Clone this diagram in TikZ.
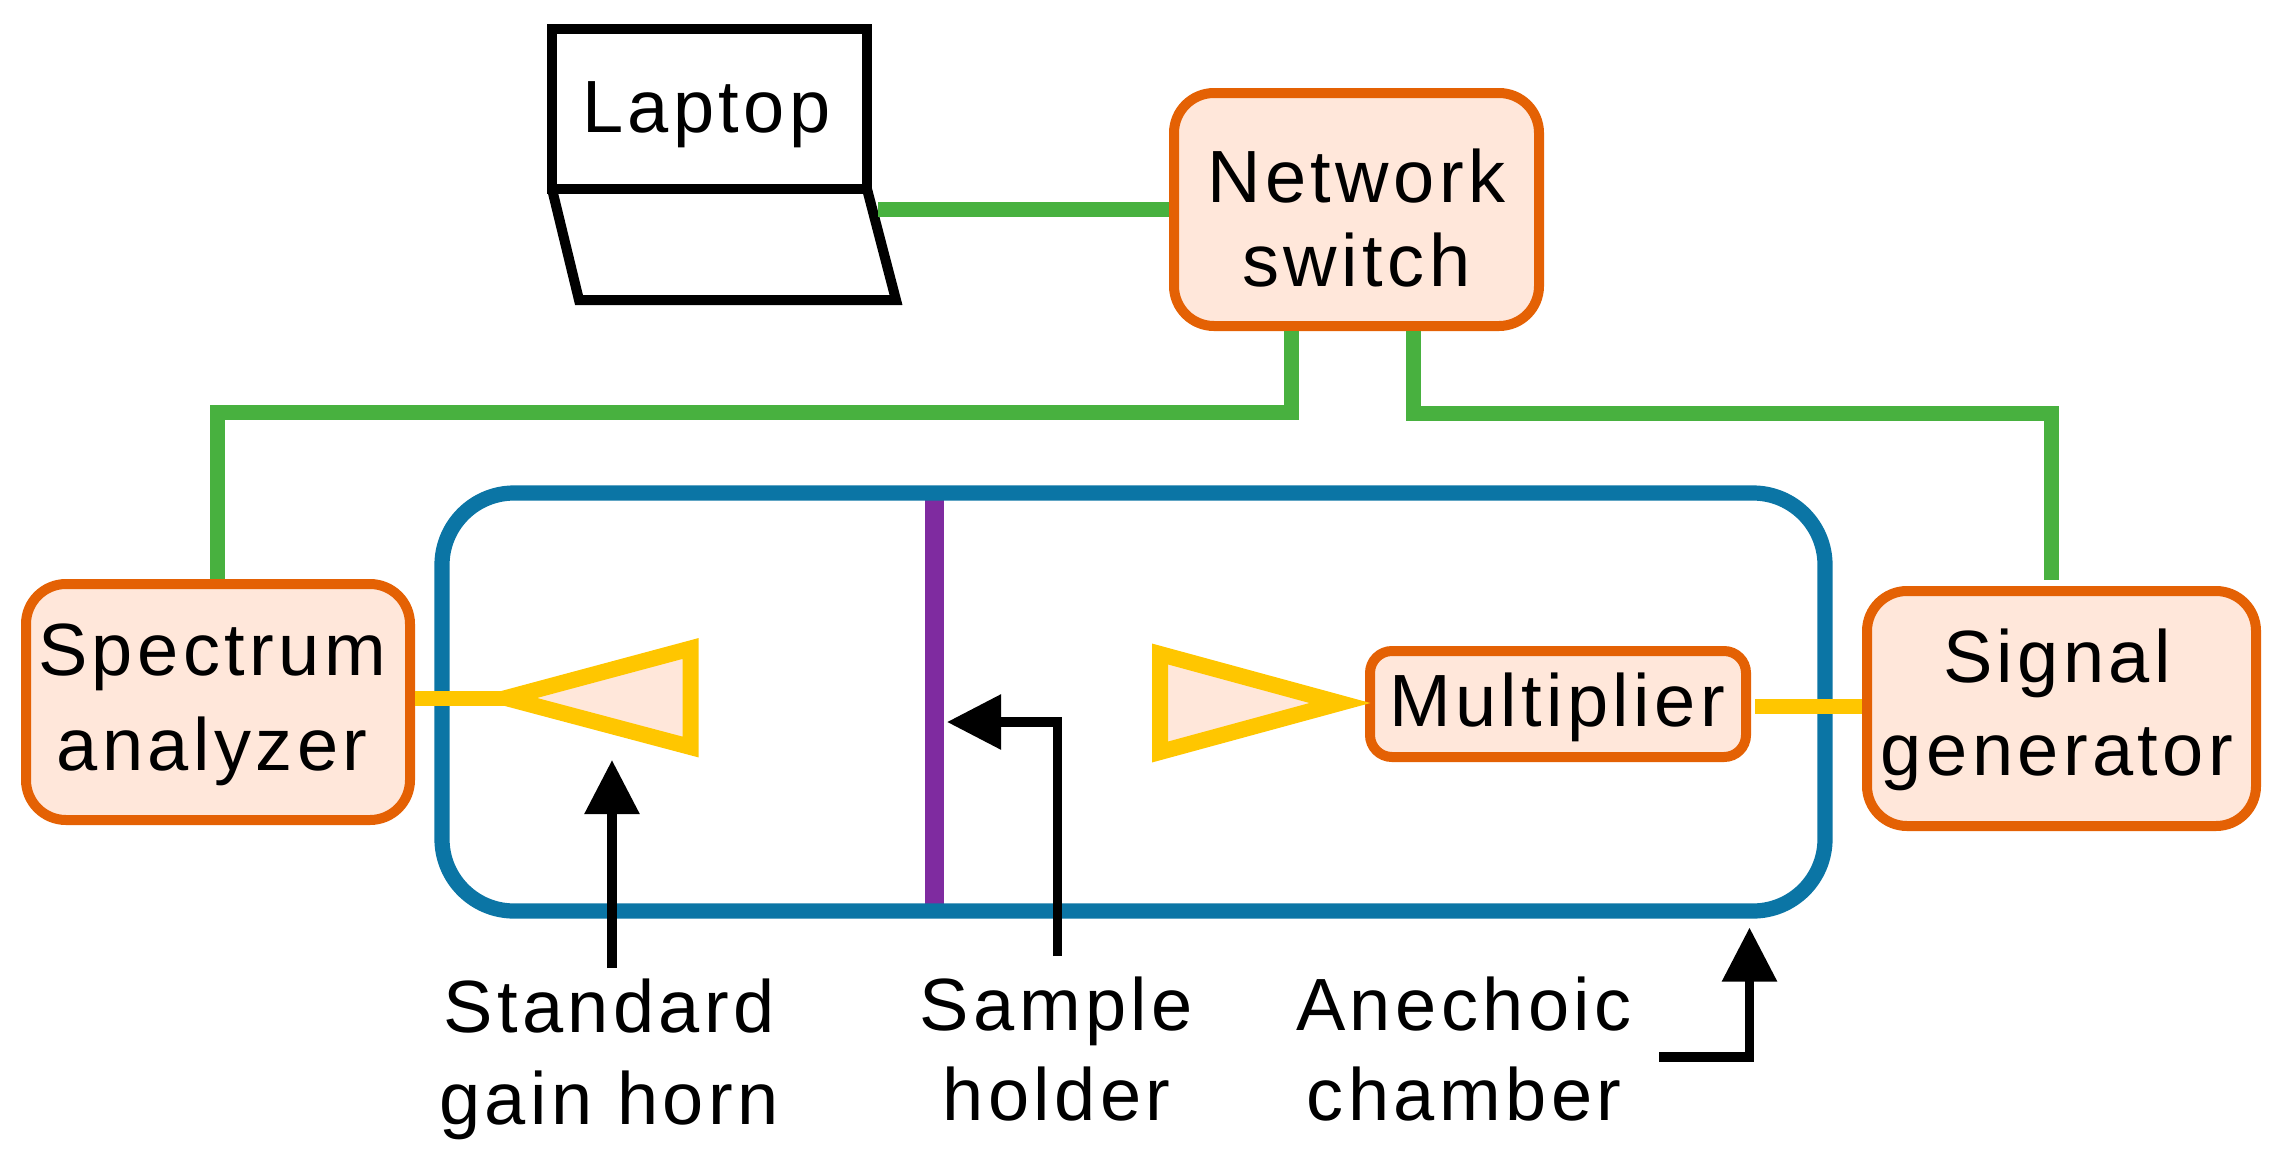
\documentclass[tikz,border=0pt]{standalone}
\usepackage{fontspec}
\setmainfont[LetterSpace=6]{Liberation Sans}
\usetikzlibrary{arrows.meta,calc}
\definecolor{boxline}{HTML}{E46104}
\definecolor{boxfill}{HTML}{FFE7DA}
\definecolor{wire}{HTML}{48B13F}
\definecolor{feed}{HTML}{FFC600}
\definecolor{chamberline}{HTML}{0B75A5}
\definecolor{holderline}{HTML}{7F2BA0}
% one line of text placed relative to the node centre: x shift, y shift, text
\newcommand{\tl}[3]{\makebox[0pt]{\hspace*{#1}\raisebox{#2}[0pt][0pt]{#3}}}
\tikzset{
  every node/.style={font=\fontsize{37}{44}\selectfont},
  devbox/.style={draw=boxline,fill=boxfill,line width=5pt,rounded corners=20pt,inner sep=0pt,text=black},
  lbl/.style={inner sep=0pt,text=black},
  wireline/.style={draw=wire,line width=7.5pt,line join=miter},
  feedline/.style={draw=feed,line width=7.5pt},
  hornshape/.style={draw=feed,fill=boxfill,line width=8pt,line join=miter},
  pointer/.style={draw=black,line width=4.6pt,line join=miter,-{Triangle[length=27pt,width=26.5pt]}},
}
\begin{document}
\begin{tikzpicture}[x=0.5pt,y=-0.5pt]
\useasboundingbox (0,0) rectangle (2284,1162);
% chamber and sample holder
\node[draw=none,inner sep=0pt] (holder) at (934.5,702) {};
\draw[holderline,line width=9.8pt] (934.5,493) -- (934.5,911);
\node[draw=chamberline,line width=7.6pt,rounded corners=36pt,minimum width=691.5pt,minimum height=209pt,inner sep=0pt,outer sep=0pt] (chamber) at (1133.5,702) {};
% devices
\node[draw=black,line width=5pt,minimum width=157.5pt,minimum height=80.25pt,inner sep=0pt,lbl] (laptop) at (709.5,108.75) {\tl{-3pt}{-11.9pt}{Laptop}};
\draw[black,line width=5pt,line join=miter] (laptop.south west) ++(2.5pt,2.5pt) -- (579,300) -- (896,300) -- (867,189);
\node[devbox,minimum width=182.5pt,minimum height=116.5pt] (switch) at (1356.5,209.5) {\tl{0pt}{3.75pt}{Network}\tl{0pt}{-38.25pt}{switch}};
\node[devbox,minimum width=192pt,minimum height=118pt] (spectrum) at (218,702) {\tl{-6pt}{13.25pt}{Spectrum}\tl{-6pt}{-34pt}{analyzer}};
\node[devbox,minimum width=194.5pt,minimum height=117.5pt] (signal) at (2061.5,708.5) {\tl{-4.5pt}{13.25pt}{Signal}\tl{-4.5pt}{-33.25pt}{generator}};
\node[devbox,rounded corners=11pt,minimum width=188pt,minimum height=53pt] (mult) at (1558,704) {\tl{-1pt}{-11pt}{Multiplier}};
% horns
\coordinate (hornL) at (506,698);
\coordinate (hornR) at (1340,703);
\draw[hornshape] (hornL) -- (690.5,648.5) -- (690.5,747) -- cycle;
\draw[hornshape] (hornR) -- (1160,654) -- (1160,752) -- cycle;
% feeds
\draw[feedline] (spectrum.east |- hornL) -- ($(hornL)+(8,0)$);
\coordinate (feedR) at (1800,706);
\draw[feedline,shorten <=2.2pt] (mult.east |- feedR) -- (signal.west |- feedR);
% network wiring
\coordinate (lapR) at (878,209);
\draw[wireline] (lapR) -- (switch.west |- lapR);
\coordinate (busA) at (217,412);
\coordinate (busB) at (1291,412);
\coordinate (busC) at (1413.5,413);
\coordinate (busD) at (2051.5,413);
\draw[wireline] (spectrum.north -| busA) -- (busA) -- (busB) -- (switch.south -| busB);
\draw[wireline,shorten >=3pt] (switch.south -| busC) -- (busC) -- (busD) -- (signal.north -| busD);
% labels
\node[lbl] (lstd) at (609,1078) {\tl{0pt}{23pt}{Standard}\tl{0pt}{-23pt}{gain horn}};
\node[lbl] (lsam) at (1056.5,1075) {\tl{0pt}{22.5pt}{Sample}\tl{0pt}{-22.5pt}{holder}};
\node[lbl] (lane) at (1464,1075) {\tl{0pt}{22.5pt}{Anechoic}\tl{0pt}{-22.5pt}{chamber}};
% pointers
\coordinate (pStdA) at (612,968);
\coordinate (pStdB) at (612,760);
\coordinate (pSamA) at (1057.5,956);
\coordinate (pSamM) at (1057.5,722);
\coordinate (pSamB) at (947,722);
\coordinate (pAneA) at (1659,1057);
\coordinate (pAneM) at (1749.5,1057);
\coordinate (pAneB) at (1749.5,927.5);
\draw[pointer] (pStdA) -- (pStdB);
\draw[pointer] (pSamA) -- (pSamM) -- (pSamB);
\draw[pointer] (pAneA) -- (pAneM) -- (pAneB);
\end{tikzpicture}
\end{document}
